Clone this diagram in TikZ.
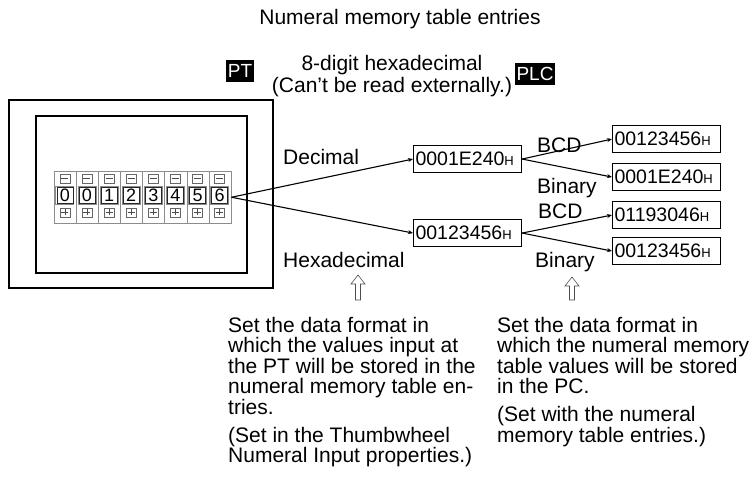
\documentclass[tikz,border=0pt]{standalone}
\usepackage{fontspec}
\setmainfont{Liberation Sans}
\usetikzlibrary{arrows.meta}
\newcommand\hsfx{{\fontsize{13}{13}\selectfont H}}
\tikzset{
  lbl/.style={font=\fontsize{21}{20}\selectfont, inner sep=0pt, anchor=base west},
  ctr/.style={font=\fontsize{21}{20}\selectfont, inner sep=0pt, anchor=base},
  tag/.style={fill=black, text=white, font=\fontsize{19}{19}\selectfont, inner xsep=1.8pt, inner ysep=0pt, minimum height=22pt},
  valbox/.style={draw, line width=1.1pt, anchor=north west, minimum height=27pt, inner xsep=2pt, inner ysep=0pt, text width=104pt, align=left, font=\fontsize{19.5}{20}\selectfont},
  conn/.style={line width=1.1pt, -{Stealth[length=5pt,width=4pt]}},
  frame/.style={draw, line width=1.4pt},
  hollow/.style={draw=black!70, line width=0.6pt, fill=white},
  cell/.style={draw=black!45, line width=0.5pt},
}
\begin{document}
\begin{tikzpicture}[x=1pt,y=-1pt]
\useasboundingbox (0,0) rectangle (755,486);
% title
\node[ctr] (title) at (400,25) {Numeral memory table entries};
\node[tag] (pt) at (240,71) {PT};
\node[tag] (plc) at (535,74) {PLC};
\node[ctr] (hex1) at (392,71) {8-digit hexadecimal};
\node[ctr] (hex2) at (392,93) {(Can’t be read externally.)};
% PT screen
\draw[frame] (9,100) rectangle (273,288);
\draw[frame] (36,116) rectangle (247,273);
% thumbwheel
\node[cell, anchor=north west, minimum width=177pt, minimum height=52pt, inner sep=0pt] (tw) at (54,171) {};
\foreach \d [count=\i from 0] in {0,0,1,2,3,4,5,6} {
  \pgfmathsetmacro\xl{54+22.125*\i}
  \pgfmathsetmacro\xc{\xl+10.8}
  \draw[cell] (\xl,171) rectangle ({\xl+22.125},223);
  % minus button
  \draw[cell, draw=black!60] ({\xc-5},174) rectangle ({\xc+5},183);
  \draw[black!70, line width=0.6pt] ({\xc-3.5},178.5) -- ({\xc+3.5},178.5);
  % digit
  \draw[draw=black!45, line width=0.8pt] ({\xc-9},186.5) rectangle ({\xc+9},204.5);
  \draw[draw=black!85, line width=0.5pt] ({\xc-8},187.5) rectangle ({\xc+8},203.5);
  \node[font=\fontsize{18}{18}\selectfont, inner sep=0pt, anchor=base] at (\xc,201.8) {\d};
  % plus button
  \draw[cell, draw=black!60] ({\xc-5},208) rectangle ({\xc+5},217);
  \draw[black!70, line width=0.6pt] ({\xc-3.5},212.5) -- ({\xc+3.5},212.5) ({\xc},209.5) -- ({\xc},215.5);
}
% value boxes
\node[valbox] (v1) at (413,145) {0001E240\hsfx};
\node[valbox] (v2) at (413,219) {00123456\hsfx};
\node[valbox] (a) at (612,125) {00123456\hsfx};
\node[valbox] (b) at (612,163) {0001E240\hsfx};
\node[valbox] (c) at (612,201) {01193046\hsfx};
\node[valbox] (d) at (612,237) {00123456\hsfx};
% connectors
\draw[conn] (tw.east) -- (v1.west);
\draw[conn] (tw.east) -- (v2.west);
\draw[conn] (v1.east) -- (a.west);
\draw[conn] (v1.east) -- (b.west);
\draw[conn] (v2.east) -- (c.west);
\draw[conn] (v2.east) -- (d.west);
% labels
\node[lbl] (ldec) at (283,165) {Decimal};
\node[lbl] (lhex) at (283,268) {Hexadecimal};
\node[lbl] (lbcd1) at (537,153) {BCD};
\node[lbl] (lbin1) at (537,194) {Binary};
\node[lbl] (lbcd2) at (538,219) {BCD};
\node[lbl] (lbin2) at (535,268) {Binary};
% hollow up arrows
\draw[hollow] (358,275) -- (351,284) -- (355.5,284) -- (355.5,300) -- (360.5,300) -- (360.5,284) -- (365,284) -- cycle;
\draw[hollow] (572,277) -- (565,286) -- (569.5,286) -- (569.5,300) -- (574.5,300) -- (574.5,286) -- (579,286) -- cycle;
% left paragraph
\node[lbl] at (228,332) {Set the data format in};
\node[lbl] at (228,352.5) {which the values input at};
\node[lbl] at (228,373) {the PT will be stored in the};
\node[lbl] at (228,393.5) {numeral memory table en-};
\node[lbl] at (228,414) {tries.};
\node[lbl] at (228,442) {(Set in the Thumbwheel};
\node[lbl] at (228,462.5) {Numeral Input properties.)};
% right paragraph
\node[lbl] at (497,332) {Set the data format in};
\node[lbl] at (497,352.5) {which the numeral memory};
\node[lbl] at (497,373) {table values will be stored};
\node[lbl] at (497,393.5) {in the PC.};
\node[lbl] at (497,421.5) {(Set with the numeral};
\node[lbl] at (497,442) {memory table entries.)};
\end{tikzpicture}
\end{document}
